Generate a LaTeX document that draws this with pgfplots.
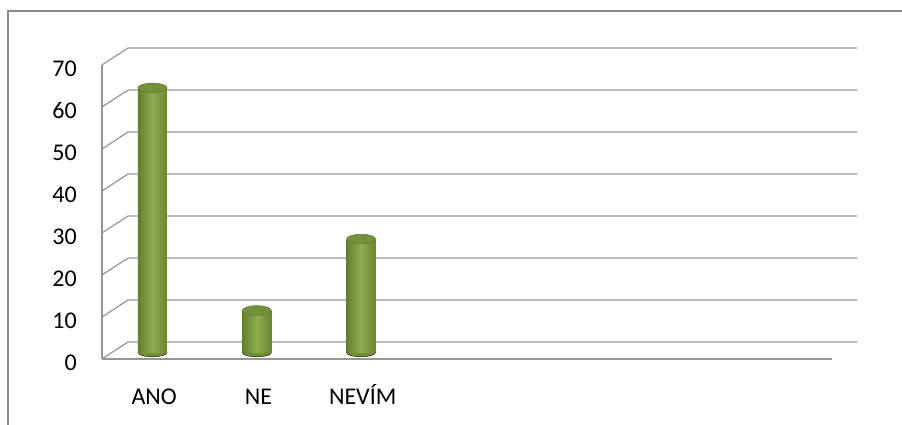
\documentclass[border=0pt]{standalone}
\usepackage{fontspec}
\setmainfont{Carlito}
\usepackage{pgfplots}
\pgfplotsset{compat=1.18}
\definecolor{gridc}{RGB}{150,150,150}
\definecolor{framec}{RGB}{140,140,140}
\definecolor{barL}{RGB}{98,128,44}
\definecolor{barM}{RGB}{140,174,80}
\definecolor{barR}{RGB}{104,134,48}
\definecolor{botc}{RGB}{112,142,54}
\definecolor{topc}{RGB}{116,146,60}
\definecolor{topd}{RGB}{96,124,44}
\begin{document}
\begin{tikzpicture}[x=1pt,y=1pt]
\useasboundingbox (0,0) rectangle (902,425);
\draw[framec, line width=1.5pt] (8,0) -- (8,414) -- (902,414);
% front axis with labels and back-wall grid
\begin{axis}[
  at={(102pt,66pt)}, anchor=south west,
  scale only axis, width=730pt, height=294pt,
  xmin=0, xmax=7, ymin=0, ymax=70,
  ytick={0,10,...,70},
  xtick={0.5,1.5,2.5},
  xticklabels={ANO,NE,NEVÍM},
  axis x line=bottom, axis y line=left,
  axis line style={gridc, line width=1.2pt, -},
  major tick length=0pt,
  /pgf/number format/assume math mode=true,
  ticklabel style={font=\fontsize{24}{28}\selectfont, text=black, inner sep=0pt},
  yticklabel style={anchor=base east, xshift=-25pt, yshift=-12pt},
  xticklabel style={anchor=base, yshift=-46pt},
  clip=false,
]
\pgfplotsinvokeforeach{0,10,20,30,40,50,60,70}{
  \draw[gridc, line width=1.2pt] (axis cs:0,#1) -- ++(26pt,17pt) -- ++(729pt,0pt);
}
\end{axis}
% cylinder bottoms
\begin{axis}[
  at={(100.35pt,72.5pt)}, anchor=south west,
  scale only axis, width=730pt, height=294pt,
  xmin=0, xmax=7, ymin=0, ymax=70,
  hide axis, clip=false,
]
\addplot[only marks, mark=*, mark size=14.5pt,
    mark options={yscale=0.3, draw=none, fill=botc}]
  coordinates {(0.5,0) (1.5,0) (2.5,0)};
\end{axis}
% cylinder bodies and tops
\begin{axis}[
  at={(100.35pt,72.5pt)}, anchor=south west,
  scale only axis, width=730pt, height=294pt,
  xmin=0, xmax=7, ymin=0, ymax=70,
  hide axis, clip=false,
  cylbody/.style={ybar, bar width=29pt, bar shift=0pt, draw=none,
    left color=barL, right color=barR, middle color=barM},
]
\addplot[cylbody] coordinates {(0.5,63)};
\addplot[cylbody] coordinates {(1.5,10)};
\addplot[cylbody] coordinates {(2.5,27)};
\addplot[only marks, mark=*, mark size=14.5pt,
    mark options={yscale=0.33, fill=topc, draw=topd, line width=0.6pt}]
  coordinates {(0.5,63) (1.5,10) (2.5,27)};
\end{axis}
\end{tikzpicture}
\end{document}
